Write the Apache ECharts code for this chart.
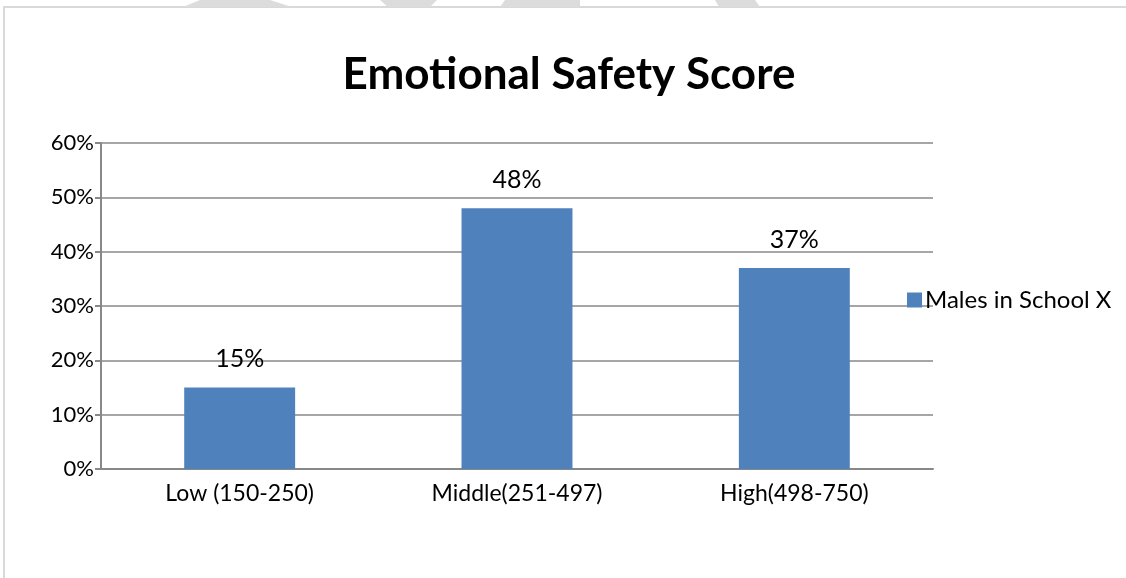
<!DOCTYPE html>
<html>
<head>
<meta charset="utf-8">
<script src="https://cdn.jsdelivr.net/npm/echarts@6/dist/echarts.min.js"></script>
<style>html,body{margin:0;padding:0;background:#fff;}#c{width:1126px;height:578px;}</style>
</head>
<body>
<div id="c"></div>
<script>
const categories = ['Low (150-250)', 'Middle(251-497)', 'High(498-750)'];
const seriesName = 'Males in School X';
const values = [15, 48, 37];
const yTicks = [0, 10, 20, 30, 40, 50, 60];

const FONT = 'Lato, "Liberation Sans", sans-serif';
const chart = echarts.init(document.getElementById('c'), null, {renderer: 'canvas'});
chart.setOption({
  backgroundColor: '#fff',
  animation: false,
  title: {
    text: 'Emotional Safety Score',
    left: 564, top: 48, textAlign: 'center',
    textStyle: {fontFamily: FONT, fontSize: 44, fontWeight: 'bold', color: '#000'}
  },
  legend: {
    orient: 'vertical', left: 902, top: 283,
    itemWidth: 15, itemHeight: 15, itemGap: 8,
    icon: 'rect',
    textStyle: {fontFamily: FONT, fontSize: 24, color: '#000', padding: [0, 0, 0, -2]},
    data: [seriesName]
  },
  grid: {left: 101, right: 193, top: 143, bottom: 109, containLabel: false},
  xAxis: {
    type: 'category', data: categories,
    axisLine: {lineStyle: {color: '#888', width: 2}},
    axisTick: {show: false},
    axisLabel: {fontFamily: FONT, fontSize: 23, color: '#000', margin: 13}
  },
  yAxis: {
    type: 'value', min: 0, max: 60, interval: 10,
    axisLine: {show: true, lineStyle: {color: '#888', width: 2}},
    axisTick: {show: true, length: 6, lineStyle: {color: '#888', width: 2}},
    splitLine: {lineStyle: {color: '#888', width: 1.5}},
    axisLabel: {fontFamily: FONT, fontSize: 22, color: '#000', margin: 7,
      formatter: v => yTicks.includes(v) ? v + '%' : ''}
  },
  series: [{
    name: seriesName, type: 'bar', data: values, barWidth: '40%',
    itemStyle: {color: '#4F81BD'},
    label: {show: true, position: 'top', distance: 16, fontFamily: FONT, fontSize: 25, color: '#000',
      formatter: p => p.value + '%'}
  }],
  graphic: [
    {type: 'rect', shape: {x: 4, y: 7, width: 1200, height: 700}, style: {fill: 'none', stroke: '#d9d9d9', lineWidth: 2}, silent: true},
    {type: 'polygon', shape: {points: [[183,7],[200,0],[270,0],[292,7]]}, style: {fill: '#dcdcdc'}, silent: true},
    {type: 'polygon', shape: {points: [[380,0],[437,0],[430,7],[388,7]]}, style: {fill: '#dcdcdc'}, silent: true},
    {type: 'polygon', shape: {points: [[500,7],[505,0],[580,0],[580,7]]}, style: {fill: '#dcdcdc'}, silent: true},
    {type: 'polygon', shape: {points: [[715,0],[755,0],[760,7],[719,7]]}, style: {fill: '#dcdcdc'}, silent: true}
  ]
});
</script>
</body>
</html>
